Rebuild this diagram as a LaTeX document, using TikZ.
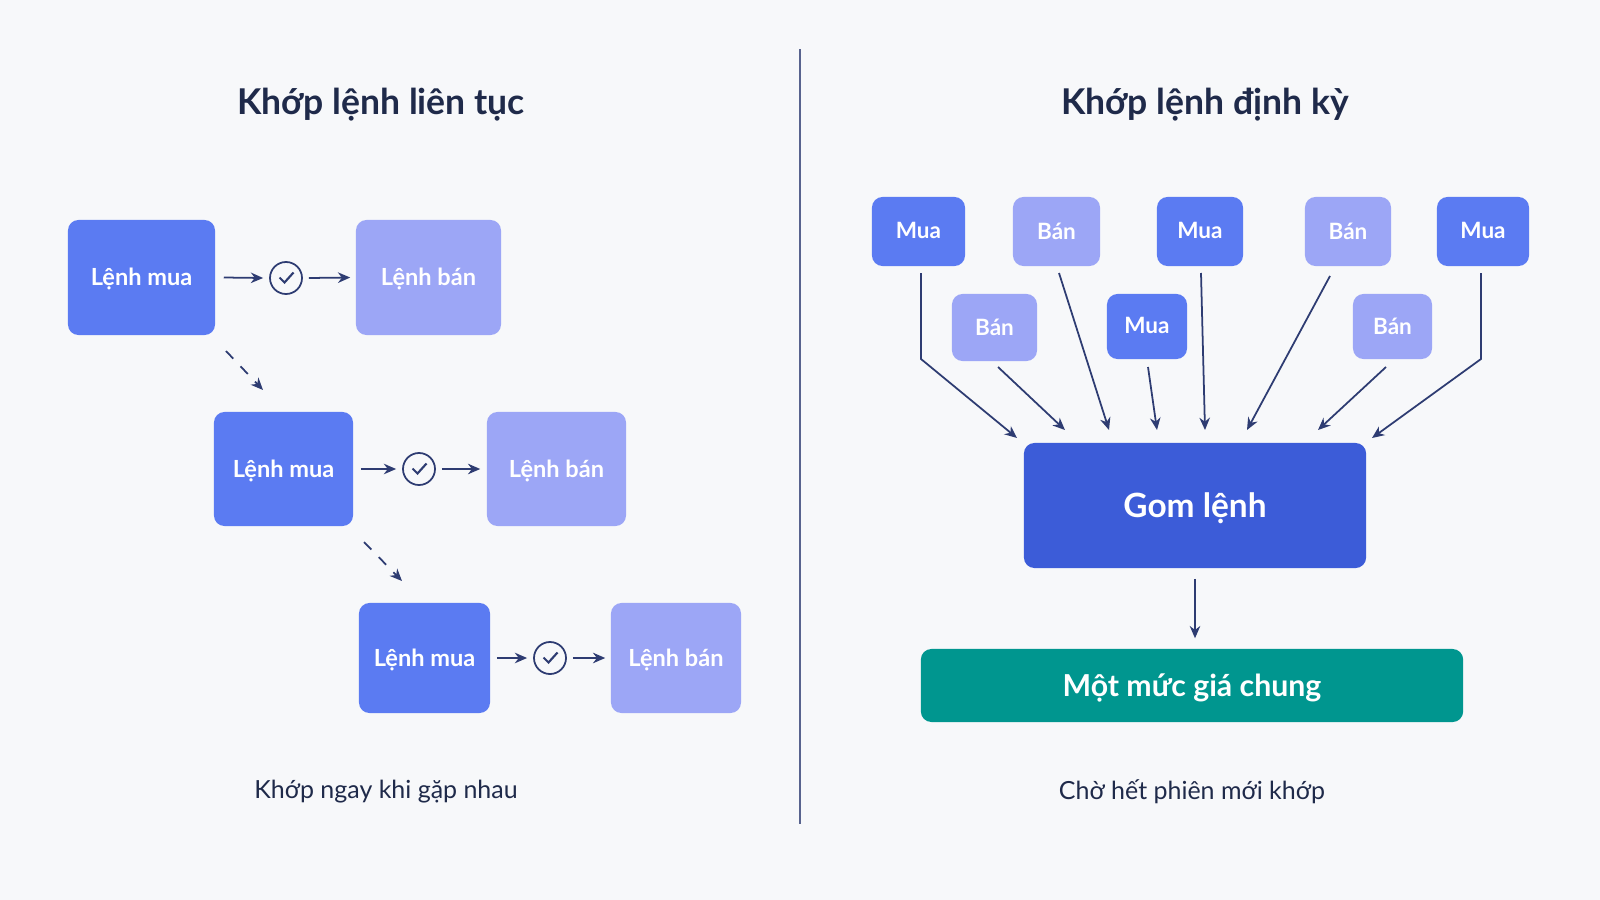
\documentclass[tikz,border=0pt]{standalone}
\usepackage{fontspec}
\setmainfont{Lato}[BoldFont={Lato Bold}]
\usetikzlibrary{arrows.meta}
\definecolor{bg}{HTML}{F7F8FA}
\definecolor{mua}{HTML}{5B7BF2}
\definecolor{ban}{HTML}{9CA6F6}
\definecolor{gom}{HTML}{3C5CD8}
\definecolor{teal}{HTML}{00968F}
\definecolor{ink}{HTML}{1F2A4A}
\definecolor{arr}{HTML}{2E3C72}
\begin{document}
\begin{tikzpicture}[x=0.01cm,y=-0.01cm,
  box/.style={rounded corners=3pt,text=white,font=\fontsize{6.7}{8}\selectfont\bfseries,inner sep=0pt,text depth=0.4pt},
  bm/.style={box,fill=mua},
  bb/.style={box,fill=ban},
  sm/.style={box,font=\fontsize{6.4}{7.5}\selectfont\bfseries},
  ar/.style={draw=arr,line width=0.5pt,-{Stealth[length=3.5pt,width=3pt]}},
  chk/.style={circle,draw=arr,line width=0.5pt,minimum size=0.32cm,inner sep=0pt},
  title/.style={text=ink,font=\fontsize{10.1}{12}\selectfont\bfseries},
  capt/.style={text=ink,font=\fontsize{7.1}{8.5}\selectfont}]
\fill[bg] (0,0) rectangle (1600,900);
\useasboundingbox (0,0) rectangle (1600,900);
\node[title] (t1) at (381,105) {Khớp lệnh liên tục};
\node[title] (t2) at (1205,105) {Khớp lệnh định kỳ};
\draw[arr!80,line width=0.5pt] (800,49) coordinate (d1) -- (800,824) coordinate (d2);
% left rows
\newcommand{\row}[9]{%
 \node[bm,minimum width=#3cm,minimum height=#4cm] (m#1) at (#2) {Lệnh mua};
 \node[bb,minimum width=#6cm,minimum height=#4cm] (b#1) at (#5) {Lệnh bán};
 \node[chk] (c#1) at (#7) {};
 \draw[arr,line width=0.6pt] ([xshift=-0.065cm,yshift=0.005cm]c#1.center) -- ([xshift=-0.015cm,yshift=-0.045cm]c#1.center) -- ([xshift=0.075cm,yshift=0.055cm]c#1.center);
 \draw[ar] ([xshift=#8cm]m#1.east) -- ([xshift=-0.06cm]c#1.west);
 \draw[ar] ([xshift=0.06cm]c#1.east) -- ([xshift=-#9cm]b#1.west);}
\row{1}{141.5,277.5}{1.47}{1.15}{428.5,277.5}{1.45}{286,278}{0.08}{0.05}
\row{2}{283.5,469}{1.39}{1.14}{556.5,469}{1.39}{419,469}{0.07}{0.06}
\row{3}{424.5,658}{1.31}{1.10}{676,658}{1.30}{550,658}{0.06}{0.05}
\coordinate (e1) at (226,351); \coordinate (f1) at (263,390);
\coordinate (e2) at (364,542); \coordinate (f2) at (402,581);
\draw[ar,dashed] (e1) -- (f1);
\draw[ar,dashed] (e2) -- (f2);
\node[capt] (c1) at (386,792) {Khớp ngay khi gặp nhau};
\node[capt] (c2) at (1192,792) {Chờ hết phiên mới khớp};
% right
\node[bm,sm,minimum width=0.93cm,minimum height=0.69cm] (r1) at (918.5,231.5) {Mua};
\node[bb,sm,minimum width=0.87cm,minimum height=0.69cm] (r2) at (1056.5,231.5) {Bán};
\node[bm,sm,minimum width=0.86cm,minimum height=0.69cm] (r3) at (1200,231.5) {Mua};
\node[bb,sm,minimum width=0.86cm,minimum height=0.69cm] (r4) at (1348,231.5) {Bán};
\node[bm,sm,minimum width=0.92cm,minimum height=0.69cm] (r5) at (1483,231.5) {Mua};
\node[bb,sm,minimum width=0.85cm,minimum height=0.67cm] (r6) at (994.5,327.5) {Bán};
\node[bm,sm,minimum width=0.80cm,minimum height=0.65cm] (r7) at (1147,326.5) {Mua};
\node[bb,sm,minimum width=0.79cm,minimum height=0.65cm] (r8) at (1392.5,326.5) {Bán};
\node[box,fill=gom,minimum width=3.42cm,minimum height=1.25cm,font=\fontsize{9.5}{11}\selectfont\bfseries] (g) at (1195,505.5) {Gom lệnh};
\node[box,fill=teal,minimum width=5.42cm,minimum height=0.73cm,font=\fontsize{8.6}{10}\selectfont\bfseries] (p) at (1192,685.5) {Một mức giá chung};
\draw[ar] (921,273) -- (921,359) -- (1017,438);
\draw[ar] (1481,273) -- (1481,359) -- (1372,438);
\draw[ar] (1059,273) -- (1109,430);
\draw[ar] (1201,273) -- (1205,430);
\draw[ar] (1330,276) -- (1247,430);
\draw[ar] (998,367) -- (1065,430);
\draw[ar] (1148,367) -- (1157,430);
\draw[ar] (1386,367) -- (1318,430);
\draw[ar] ([yshift=-0.1cm]g.south) -- ([yshift=0.1cm]g.south |- p.north);
\end{tikzpicture}
\end{document}
